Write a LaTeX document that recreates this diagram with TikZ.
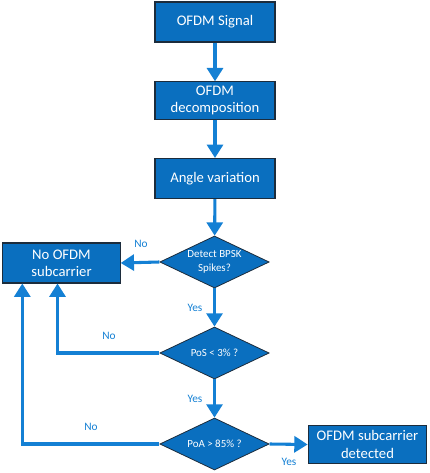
\documentclass[tikz,border=0pt]{standalone}
\usepackage{fontspec}
\setmainfont{Carlito}
\usetikzlibrary{shapes.geometric,arrows.meta}
\definecolor{boxblue}{HTML}{0A6FBF}
\definecolor{linkblue}{HTML}{1480D4}
\definecolor{edgedark}{HTML}{1C2C3C}
\begin{document}
\begin{tikzpicture}[x=0.75pt,y=-0.75pt,
  procbox/.style={draw=edgedark,line width=0.8pt,fill=boxblue,text=white,
    minimum width=90pt,minimum height=30pt,inner sep=1pt,align=center,font=\fontsize{11}{13}\selectfont},
  decide/.style={diamond,draw=edgedark,line width=0.6pt,fill=boxblue,text=white,
    minimum width=82pt,minimum height=39pt,inner sep=0pt,aspect=2.1,align=center,font=\fontsize{8.2}{10}\selectfont},
  flow/.style={draw=linkblue,line width=2.3pt,-{Triangle[length=10pt,width=12pt]}},
  lbl/.style={text=linkblue,font=\fontsize{8.5}{10}\selectfont}]
\useasboundingbox (0,0) rectangle (429,473);
\node[procbox] (sig) at (215,22) {OFDM Signal};
\node[procbox,minimum height=28pt] (dec) at (215,100.5) {OFDM\\decomposition};
\node[procbox] (ang) at (215,178.5) {Angle variation};
\node[decide] (d1) at (214.5,262) {Detect BPSK\\Spikes?};
\node[decide] (d2) at (214.5,353) {PoS < 3\% ?};
\node[decide] (d3) at (214.5,444) {PoA > 85\% ?};
\node[procbox,minimum width=88pt] (nos) at (61.5,263) {No OFDM\\subcarrier};
\node[procbox,minimum width=89pt,minimum height=29pt] (det) at (367.5,444.5) {OFDM subcarrier\\detected};
\draw[flow] (sig) -- (dec);
\draw[flow] (dec) -- (ang);
\draw[flow] (ang) -- (d1);
\draw[flow] (d1) -- (d2);
\draw[flow] (d2) -- (d3);
\draw[flow] (d1.west) -- (nos.east);
\draw[flow] (d3.east) -- (det.west);
\draw[flow] (d2.west) -| ([xshift=-3pt]nos.south);
\draw[flow] (d3.west) -| ([xshift=15pt]nos.south west);
\node[lbl] (n1) at (141,244) {No};
\node[lbl] (y1) at (195,308) {Yes};
\node[lbl] (n2) at (109,336) {No};
\node[lbl] (y2) at (195,399) {Yes};
\node[lbl] (n3) at (91,427) {No};
\node[lbl] (y3) at (289,462) {Yes};
\end{tikzpicture}
\end{document}
